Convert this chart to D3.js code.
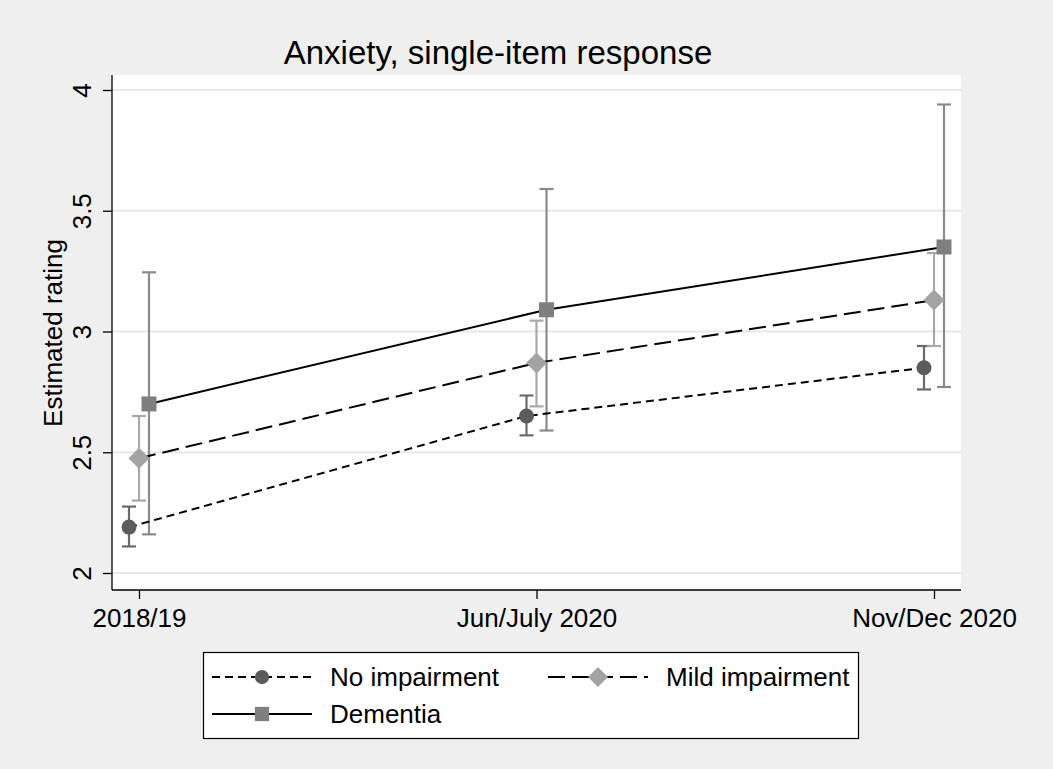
<!DOCTYPE html>
<html>
<head>
<meta charset="utf-8">
<script src="https://cdn.jsdelivr.net/npm/d3@7"></script>
<style>
  body { margin: 0; background: #efefef; }
  svg text { font-family: "Liberation Sans", Arial, Helvetica, sans-serif; fill: #000; }
</style>
</head>
<body>
<div id="chart"></div>
<script>
// ========== DATA ==========
const waves = ['2018/19', 'Jun/July 2020', 'Nov/Dec 2020'];
const yTicks = [2, 2.5, 3, 3.5, 4];

const noImpEst = [2.19, 2.65, 2.85];
const noImpLo  = [2.11, 2.57, 2.76];
const noImpHi  = [2.275, 2.735, 2.94];

const mildEst = [2.475, 2.87, 3.13];
const mildLo  = [2.30, 2.69, 2.94];
const mildHi  = [2.65, 3.045, 3.325];

const demEst = [2.70, 3.09, 3.35];
const demLo  = [2.16, 2.59, 2.77];
const demHi  = [3.245, 3.59, 3.94];

const groups = [
    { name: 'No impairment', est: noImpEst, lo: noImpLo, hi: noImpHi, shape: 'circle', fill: '#5c5c5c', bar: '#6a6a6a', dash: '8,5', offset: -1 },
    { name: 'Mild impairment', est: mildEst, lo: mildLo, hi: mildHi, shape: 'diamond', fill: '#a3a3a3', bar: '#a8a8a8', dash: '17,7', offset: 0 },
    { name: 'Dementia', est: demEst, lo: demLo, hi: demHi, shape: 'square', fill: '#7f7f7f', bar: '#8a8a8a', dash: null, offset: 1 }
];

// ========== LAYOUT ==========
const width = 1053, height = 769;
const plot = { left: 112, right: 961, top: 75, bottom: 590 };
const fs = 26;

const svg = d3.select('#chart').append('svg')
    .attr('width', width)
    .attr('height', height);

svg.append('rect').attr('width', width).attr('height', height).attr('fill', '#efefef');
svg.append('rect')
    .attr('x', plot.left).attr('y', plot.top)
    .attr('width', plot.right - plot.left).attr('height', plot.bottom - plot.top)
    .attr('fill', '#fff');

const x = d3.scalePoint().domain(waves).range([139, 934]);
const y = d3.scaleLinear().domain([2, 4]).range([573, 90]);
const dodge = 10;

// gridlines
svg.append('g').selectAll('line')
    .data(yTicks)
    .enter().append('line')
    .attr('x1', plot.left).attr('x2', plot.right)
    .attr('y1', d => y(d)).attr('y2', d => y(d))
    .attr('stroke', '#e8e8e8')
    .attr('stroke-width', 2);

// axes
const yAxis = svg.append('g')
    .attr('transform', `translate(${plot.left},0)`)
    .call(d3.axisLeft(y).tickValues(yTicks).tickFormat(d3.format('')).tickSize(9));
yAxis.select('.domain').remove();
yAxis.selectAll('.tick line').attr('stroke', '#000').attr('stroke-width', 1.3);
yAxis.selectAll('.tick text')
    .attr('font-size', fs)
    .attr('x', null).attr('dy', null)
    .attr('text-anchor', 'middle')
    .attr('transform', 'translate(-21,0) rotate(-90)');

const xAxis = svg.append('g')
    .attr('transform', `translate(0,${plot.bottom})`)
    .call(d3.axisBottom(x).tickSize(9));
xAxis.select('.domain').remove();
xAxis.selectAll('.tick line').attr('stroke', '#000').attr('stroke-width', 1.3);
xAxis.selectAll('.tick text')
    .attr('font-size', fs)
    .attr('y', 37).attr('dy', null);

svg.append('line')
    .attr('x1', plot.left).attr('x2', plot.left)
    .attr('y1', plot.top).attr('y2', plot.bottom)
    .attr('stroke', '#000').attr('stroke-width', 1.3);
svg.append('line')
    .attr('x1', plot.left).attr('x2', plot.right)
    .attr('y1', plot.bottom).attr('y2', plot.bottom)
    .attr('stroke', '#000').attr('stroke-width', 1.3);

// titles
svg.append('text')
    .attr('x', 498).attr('y', 64)
    .attr('text-anchor', 'middle')
    .attr('font-size', 33)
    .text('Anxiety, single-item response');

svg.append('text')
    .attr('transform', `translate(62,333) rotate(-90)`)
    .attr('text-anchor', 'middle')
    .attr('font-size', fs)
    .text('Estimated rating');

// ========== MARKS ==========
const px = (g, i) => x(waves[i]) + g.offset * dodge;

function drawMarker(sel, shape, fill, cx, cy, scale) {
    const s = scale || 1;
    if (shape === 'circle') {
        sel.append('circle').attr('cx', cx).attr('cy', cy).attr('r', 7.5 * s).attr('fill', fill);
    } else if (shape === 'diamond') {
        const r = 10.5 * s;
        sel.append('path')
            .attr('d', `M${cx},${cy - r}L${cx + r},${cy}L${cx},${cy + r}L${cx - r},${cy}Z`)
            .attr('fill', fill);
    } else {
        const h = 7.5 * s;
        sel.append('rect').attr('x', cx - h).attr('y', cy - h).attr('width', 2 * h).attr('height', 2 * h).attr('fill', fill);
    }
}

const line = d3.line().x(d => d[0]).y(d => d[1]);

groups.forEach(g => {
    const gg = svg.append('g');
    // error bars
    g.est.forEach((v, i) => {
        const cx = px(g, i);
        gg.append('line')
            .attr('x1', cx).attr('x2', cx)
            .attr('y1', y(g.lo[i])).attr('y2', y(g.hi[i]))
            .attr('stroke', g.bar).attr('stroke-width', 2.2);
        [g.lo[i], g.hi[i]].forEach(c => {
            gg.append('line')
                .attr('x1', cx - 7).attr('x2', cx + 7)
                .attr('y1', y(c)).attr('y2', y(c))
                .attr('stroke', g.bar).attr('stroke-width', 2.2);
        });
    });
});

groups.forEach(g => {
    const pts = g.est.map((v, i) => [px(g, i), y(v)]);
    svg.append('path')
        .attr('d', line(pts))
        .attr('fill', 'none')
        .attr('stroke', '#000')
        .attr('stroke-width', 2)
        .attr('stroke-dasharray', g.dash);
    pts.forEach(p => drawMarker(svg, g.shape, g.fill, p[0], p[1]));
});

// ========== LEGEND ==========
const legend = svg.append('g');
legend.append('rect')
    .attr('x', 203.5).attr('y', 652.5)
    .attr('width', 655).attr('height', 86)
    .attr('fill', '#fff')
    .attr('stroke', '#000')
    .attr('stroke-width', 1.2);

const legendPos = [
    { x: 212, y: 677 },
    { x: 548, y: 677 },
    { x: 212, y: 714 }
];
groups.forEach((g, i) => {
    const p = legendPos[i];
    legend.append('line')
        .attr('x1', p.x).attr('x2', p.x + 100)
        .attr('y1', p.y).attr('y2', p.y)
        .attr('stroke', '#000').attr('stroke-width', 2)
        .attr('stroke-dasharray', g.dash);
    drawMarker(legend, g.shape, g.fill, p.x + 50, p.y, 0.95);
    legend.append('text')
        .attr('x', p.x + 118).attr('y', p.y + 9)
        .attr('font-size', fs)
        .text(g.name);
});
</script>
</body>
</html>
